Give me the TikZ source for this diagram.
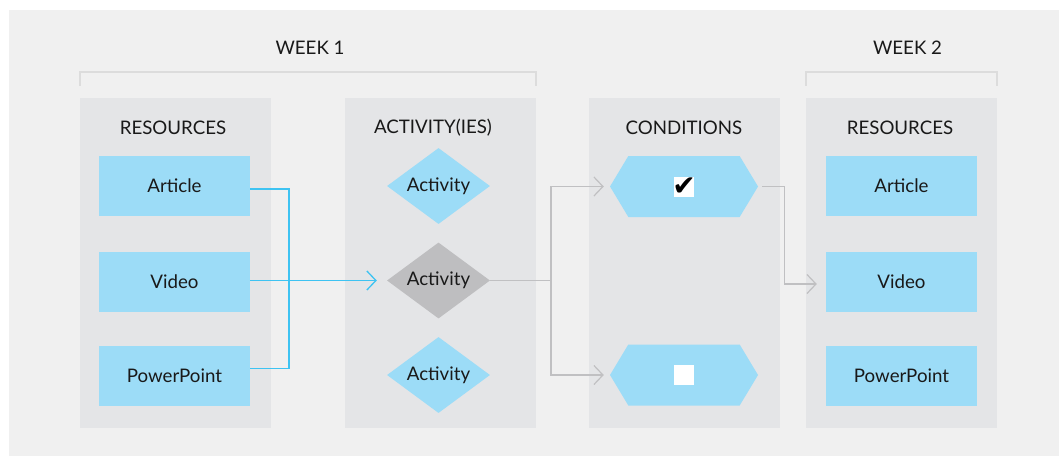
\documentclass[tikz,border=0pt]{standalone}
\usepackage{fontspec}
\setmainfont{Lato}
\newfontfamily\symfont{DejaVu Sans}
\usetikzlibrary{arrows.meta,shapes.geometric,shapes.symbols,calc}

\definecolor{bgcol}{RGB}{240,240,240}
\definecolor{colcol}{RGB}{228,229,231}
\definecolor{lblue}{RGB}{156,220,247}
\definecolor{linkblue}{RGB}{62,195,242}
\definecolor{linkgrey}{RGB}{192,192,194}
\definecolor{actgrey}{RGB}{190,190,192}
\definecolor{brackgrey}{RGB}{220,220,220}

\begin{document}
\begin{tikzpicture}[x=1pt, y=-1pt, >={Straight Barb[length=9pt,width=19pt]},
    txt/.style={font=\fontsize{18.7}{22}\selectfont, text=black!90},
    column/.style={fill=colcol, minimum width=191pt, minimum height=330pt, inner sep=0},
    resbox/.style={txt, fill=lblue, minimum width=151pt, minimum height=60pt, inner sep=0},
    actdia/.style={txt, diamond, aspect=1.35, fill=lblue, minimum width=103pt, minimum height=76pt, inner sep=0},
    condhex/.style={signal, signal to=east and west, signal pointer angle=118, fill=lblue, minimum width=148pt, minimum height=61pt, inner sep=0},
    tickbox/.style={fill=white, minimum size=20pt, inner sep=0},
    tick/.style={inner sep=0, font=\symfont\fontsize{28}{28}\selectfont},
    bluelink/.style={draw=linkblue, line width=1.3pt},
    greylink/.style={draw=linkgrey, line width=1.2pt},
    bracket/.style={draw=brackgrey, line width=1.5pt}]
    \useasboundingbox (0,0) rectangle (1059,456);
    \fill[bgcol] (9,10) rectangle (1059,456);

    % the four columns
    \node[column] (col1) at (175.5,263) {};
    \node[column] (col2) at (440.5,263) {};
    \node[column] (col3) at (684.5,263) {};
    \node[column] (col4) at (901.5,263) {};

    \node[txt] (head1) at (173,128) {RESOURCES};
    \node[txt] (head2) at (433,128) {ACTIVITY(IES)};
    \node[txt] (head3) at (684,128) {CONDITIONS};
    \node[txt] (head4) at (900,128) {RESOURCES};

    % weeks
    \draw[bracket] ([yshift=12pt]col1.north west) -- ([yshift=26pt]col1.north west)
        -- ([yshift=26pt]col2.north east) -- ([yshift=12pt]col2.north east);
    \draw[bracket] ([yshift=12pt]col4.north west) -- ([yshift=26pt]col4.north west)
        -- ([yshift=26pt]col4.north east) -- ([yshift=12pt]col4.north east);
    \node[txt] (week1) at ($(col1.north west)!0.5!(col2.north east) + (2,-50)$) {WEEK 1};
    \node[txt] (week2) at ($(col4.north) + (6,-50)$) {WEEK 2};

    % resources
    \node[resbox] (art1) at (174.5,186) {Article};
    \node[resbox] (vid1) at (174.5,282) {Video};
    \node[resbox] (ppt1) at (174.5,375.5) {PowerPoint};
    \node[resbox] (art2) at (901.5,186) {Article};
    \node[resbox] (vid2) at (901.5,282) {Video};
    \node[resbox] (ppt2) at (901.5,375.5) {PowerPoint};

    % activities
    \node[actdia] (act1) at (438.5,186) {Activity};
    \node[actdia, fill=actgrey] (act2) at (438.5,280.5) {Activity};
    \node[actdia] (act3) at (438.5,375) {Activity};

    % conditions
    \node[condhex] (cond1) at (684,186.5) {};
    \node[condhex] (cond2) at (684,375) {};
    \node[tickbox] (box1) at (cond1) {};
    \node[tickbox] (box2) at (cond2) {};
    \node[tick] (chk1) at (box1) {✔};

    % links
    \coordinate (bj) at (289,280.5);
    \draw[bluelink] ([yshift=-3pt]art1.east) -| (bj) |- ([yshift=7pt]ppt1.east);
    \draw[bluelink, ->, shorten >=10pt] (vid1.east |- act2.west) -- (act2.west);

    \coordinate (gj) at (551,280.5);
    \draw[greylink] (act2.east) -- (gj);
    \draw[greylink, ->, shorten >=6pt] (gj) |- (cond1.west);
    \draw[greylink, ->, shorten >=6pt] (gj) |- (cond2.west);
    \draw[greylink, ->, shorten <=4pt, shorten >=9pt] (cond1.east) -- ++(26,0) |- ([yshift=-2pt]vid2.west);
\end{tikzpicture}
\end{document}
